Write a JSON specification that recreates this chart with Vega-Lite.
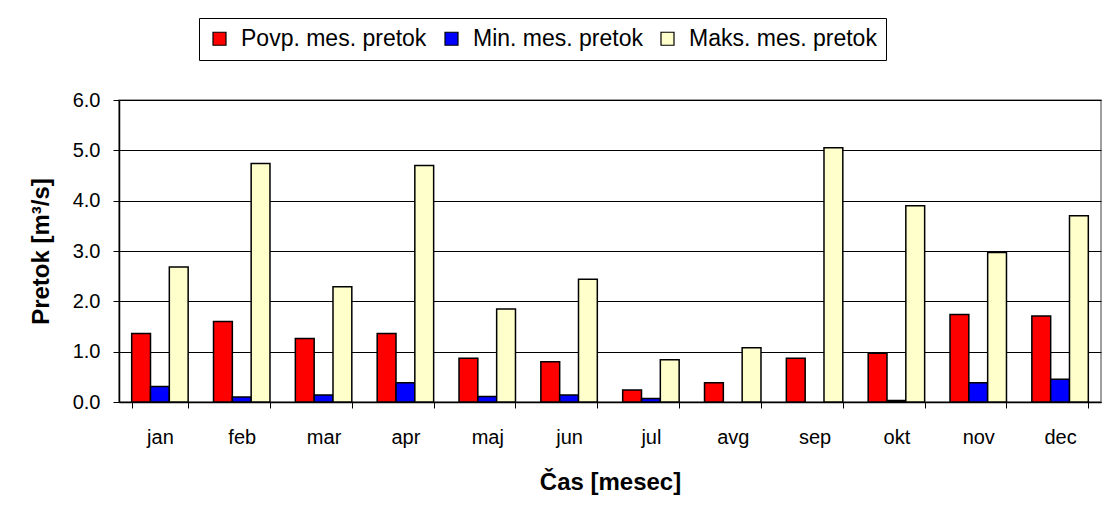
{
  "$schema": "https://vega.github.io/schema/vega-lite/v6.json",
  "width": 982,
  "height": 302,
  "autosize": {"type": "none"},
  "padding": {"left": 119, "top": 100, "right": 10, "bottom": 104},
  "background": "white",
  "config": {
    "font": "Liberation Sans",
    "view": {"stroke": "#808080", "strokeWidth": 1.5}
  },
  "data": {
    "values": [
      {"mesec": "jan", "serija": "Povp. mes. pretok", "pretok": 1.36},
      {"mesec": "jan", "serija": "Min. mes. pretok", "pretok": 0.31},
      {"mesec": "jan", "serija": "Maks. mes. pretok", "pretok": 2.68},
      {"mesec": "feb", "serija": "Povp. mes. pretok", "pretok": 1.60},
      {"mesec": "feb", "serija": "Min. mes. pretok", "pretok": 0.10},
      {"mesec": "feb", "serija": "Maks. mes. pretok", "pretok": 4.74},
      {"mesec": "mar", "serija": "Povp. mes. pretok", "pretok": 1.26},
      {"mesec": "mar", "serija": "Min. mes. pretok", "pretok": 0.14},
      {"mesec": "mar", "serija": "Maks. mes. pretok", "pretok": 2.29},
      {"mesec": "apr", "serija": "Povp. mes. pretok", "pretok": 1.36},
      {"mesec": "apr", "serija": "Min. mes. pretok", "pretok": 0.38},
      {"mesec": "apr", "serija": "Maks. mes. pretok", "pretok": 4.70},
      {"mesec": "maj", "serija": "Povp. mes. pretok", "pretok": 0.87},
      {"mesec": "maj", "serija": "Min. mes. pretok", "pretok": 0.11},
      {"mesec": "maj", "serija": "Maks. mes. pretok", "pretok": 1.85},
      {"mesec": "jun", "serija": "Povp. mes. pretok", "pretok": 0.80},
      {"mesec": "jun", "serija": "Min. mes. pretok", "pretok": 0.14},
      {"mesec": "jun", "serija": "Maks. mes. pretok", "pretok": 2.44},
      {"mesec": "jul", "serija": "Povp. mes. pretok", "pretok": 0.24},
      {"mesec": "jul", "serija": "Min. mes. pretok", "pretok": 0.07},
      {"mesec": "jul", "serija": "Maks. mes. pretok", "pretok": 0.84},
      {"mesec": "avg", "serija": "Povp. mes. pretok", "pretok": 0.38},
      {"mesec": "avg", "serija": "Maks. mes. pretok", "pretok": 1.08},
      {"mesec": "sep", "serija": "Povp. mes. pretok", "pretok": 0.87},
      {"mesec": "sep", "serija": "Maks. mes. pretok", "pretok": 5.05},
      {"mesec": "okt", "serija": "Povp. mes. pretok", "pretok": 0.97},
      {"mesec": "okt", "serija": "Min. mes. pretok", "pretok": 0.03},
      {"mesec": "okt", "serija": "Maks. mes. pretok", "pretok": 3.90},
      {"mesec": "nov", "serija": "Povp. mes. pretok", "pretok": 1.74},
      {"mesec": "nov", "serija": "Min. mes. pretok", "pretok": 0.38},
      {"mesec": "nov", "serija": "Maks. mes. pretok", "pretok": 2.97},
      {"mesec": "dec", "serija": "Povp. mes. pretok", "pretok": 1.71},
      {"mesec": "dec", "serija": "Min. mes. pretok", "pretok": 0.45},
      {"mesec": "dec", "serija": "Maks. mes. pretok", "pretok": 3.70}
    ]
  },
  "mark": {"type": "bar", "stroke": "black", "strokeWidth": 1.5},
  "encoding": {
    "x": {
      "field": "mesec",
      "type": "nominal",
      "scale": {
        "domain": ["jan", "feb", "mar", "apr", "maj", "jun", "jul", "avg", "sep", "okt", "nov", "dec"],
        "paddingInner": 0.31,
        "paddingOuter": 0.155
      },
      "axis": {
        "title": "Čas [mesec]",
        "titleFontSize": 24,
        "titleFontWeight": "bold",
        "titleColor": "black",
        "titlePadding": 23,
        "labelFontSize": 20,
        "labelColor": "black",
        "labelAngle": 0,
        "labelPadding": 19,
        "tickBand": "extent",
        "tickSize": 6,
        "tickColor": "black",
        "domainColor": "black",
        "domainWidth": 1.5,
        "grid": false
      }
    },
    "xOffset": {
      "field": "serija",
      "type": "nominal",
      "scale": {
        "domain": ["Povp. mes. pretok", "Min. mes. pretok", "Maks. mes. pretok"],
        "paddingInner": 0,
        "paddingOuter": 0
      }
    },
    "y": {
      "field": "pretok",
      "type": "quantitative",
      "scale": {"domain": [0, 6], "nice": false},
      "axis": {
        "title": "Pretok [m³/s]",
        "titleFontSize": 24,
        "titleFontWeight": "bold",
        "titleColor": "black",
        "titlePadding": 19,
        "values": [0, 1, 2, 3, 4, 5, 6],
        "format": ".1f",
        "labelFontSize": 20,
        "labelColor": "black",
        "labelPadding": 13,
        "tickSize": 6,
        "tickColor": "black",
        "domainColor": "black",
        "domainWidth": 1.5,
        "grid": true,
        "gridColor": "black",
        "gridWidth": 1.2
      }
    },
    "color": {
      "field": "serija",
      "type": "nominal",
      "scale": {
        "domain": ["Povp. mes. pretok", "Min. mes. pretok", "Maks. mes. pretok"],
        "range": ["#FF0000", "#0000FF", "#FFFFCC"]
      },
      "legend": {
        "title": null,
        "orient": "none",
        "direction": "horizontal",
        "legendX": 80,
        "legendY": -82,
        "strokeColor": "black",
        "fillColor": "white",
        "padding": 9,
        "symbolType": "square",
        "symbolSize": 169,
        "symbolStrokeColor": "black",
        "symbolStrokeWidth": 1.2,
        "symbolOpacity": 1,
        "labelFontSize": 23,
        "labelColor": "black",
        "labelOffset": 10,
        "labelLimit": 400,
        "columnPadding": 13
      }
    }
  }
}
